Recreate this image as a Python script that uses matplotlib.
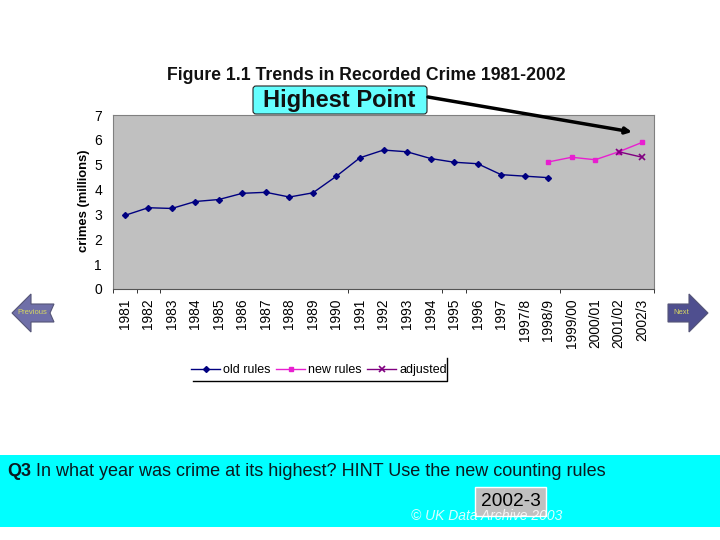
import matplotlib
matplotlib.use("Agg")
import matplotlib.pyplot as plt
from matplotlib.patches import FancyBboxPatch, Polygon, Rectangle

plt.rcParams['font.family'] = ['Liberation Sans', 'DejaVu Sans']

# chart data
years = ["1981", "1982", "1983", "1984", "1985", "1986", "1987", "1988", "1989", "1990",
         "1991", "1992", "1993", "1994", "1995", "1996", "1997", "1997/8", "1998/9",
         "1999/00", "2000/01", "2001/02", "2002/3"]
old_rules = [2.96, 3.27, 3.24, 3.52, 3.60, 3.85, 3.89, 3.70, 3.87, 4.54, 5.28, 5.59, 5.52,
             5.25, 5.10, 5.04, 4.60, 4.54, 4.48]
new_rules = [5.11, 5.30, 5.20, 5.52, 5.90]
adjusted = [5.52, 5.30]
y_ticks = [0, 1, 2, 3, 4, 5, 6, 7]
tick_edges = [0, 1, 2, 10, 14, 15, 19, 23]

W, H = 720, 540
fig = plt.figure(figsize=(W / 100, H / 100), dpi=100, facecolor="white")

# main chart, placed in pixels
ax = fig.add_axes([113 / W, 1 - 289 / H, 541 / W, 174 / H])
ax.set_facecolor("#c0c0c0")
x = list(range(len(years)))
ax.plot(x[:19], old_rules, color="#000080", lw=1, marker="D", ms=3, label="old rules")
ax.plot(x[18:], new_rules, color="#e81fd0", lw=1, marker="s", ms=3.5, label="new rules")
ax.plot(x[21:], adjusted, color="#800080", lw=1, marker="x", ms=4, mew=1.2, label="adjusted")
ax.set_xlim(-0.5, 22.5)
ax.set_ylim(0, 7)
ax.set_yticks(y_ticks)
ax.set_xticks(x)
ax.set_xticklabels(years, rotation=90, fontsize=9.9)
ax.tick_params(axis="x", length=0, pad=7)
ax.tick_params(axis="y", length=0, pad=8, labelsize=10)
ax.set_xticks([e - 0.5 for e in tick_edges], minor=True)
ax.tick_params(axis="x", which="minor", length=3, width=0.7, color="#333333")
for side in ax.spines:
    ax.spines[side].set_color("#808080")
ax.spines["bottom"].set_color("#555555")
ax.set_ylabel("crimes (millions)", fontsize=9.4, fontweight="bold")
ax.yaxis.set_label_coords((90 - 113) / 541, 0.505)

leg = ax.legend(loc="center", bbox_to_anchor=((319 - 113) / 541, (289 - 370) / 174), ncol=3,
                frameon=False, fontsize=9, handlelength=2.3, columnspacing=0.45,
                handletextpad=0.25)

# overlay in pixel coordinates for the slide decoration
ov = fig.add_axes([0, 0, 1, 1], zorder=5)
ov.set_xlim(0, W)
ov.set_ylim(H, 0)
ov.axis("off")
ov.patch.set_alpha(0)

ov.text(366, 75, "Figure 1.1 Trends in Recorded Crime 1981-2002", ha="center", va="center",
        fontsize=12.7, fontweight="bold", color="#111111")

ov.add_patch(FancyBboxPatch((253, 86), 174, 28, boxstyle="round,pad=0,rounding_size=3",
                            fc="#66ffff", ec="#222222", lw=0.8))
ov.text(339, 100, "Highest Point", ha="center", va="center", fontsize=17,
        fontweight="bold", color="#111111")
ov.annotate("", xy=(632, 132), xytext=(428, 97),
            arrowprops=dict(arrowstyle="-|>", color="black", lw=2.5, mutation_scale=9,
                            shrinkA=0, shrinkB=0))

# legend rules, right and bottom only
ov.plot([193, 447, 447], [381, 381, 358], color="black", lw=1)

# question band
ov.add_patch(Rectangle((0, 455), W, 72, fc="#00ffff", ec="none"))
ov.text(7, 471, "Q3", ha="left", va="center", fontsize=13, fontweight="bold", color="#0a1a20")
ov.text(36, 471, "In what year was crime at its highest? HINT Use the new counting rules",
        ha="left", va="center", fontsize=13, color="#0a1a20")
ov.add_patch(Rectangle((475, 487), 71, 29, fc="#c0c0c0", ec="white", lw=1))
ov.text(511, 501, "2002-3", ha="center", va="center", fontsize=13.8, color="black")
ov.text(487, 516, "© UK Data Archive 2003", ha="center", va="center", fontsize=10,
        style="italic", color="white", alpha=0.85)

# previous / next buttons
prev_pts = [(12, 313), (31, 294), (31, 304), (54, 304), (50, 313), (54, 322), (31, 322), (31, 332)]
next_pts = [(708, 313), (689, 294), (689, 304), (668, 304), (668, 322), (689, 322), (689, 332)]
ov.add_patch(Polygon(prev_pts, closed=True, fc="#6f6fa8", ec="#555577", lw=0.8))
ov.add_patch(Polygon(next_pts, closed=True, fc="#4f4f8f", ec="#555577", lw=0.8))
ov.text(32, 313, "Previous", ha="center", va="center", fontsize=5.5, color="#d8d860")
ov.text(681, 313, "Next", ha="center", va="center", fontsize=5.5, color="#d8d860")

fig.savefig("out.png", dpi=100)
